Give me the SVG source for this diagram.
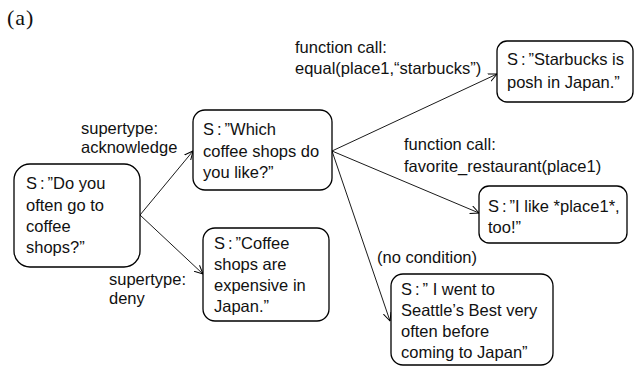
<svg xmlns="http://www.w3.org/2000/svg" width="635" height="366" viewBox="0 0 635 366">
<defs>
<style>
.box{fill:#fff;stroke:#000;stroke-width:1.3}
.t{font-family:"Liberation Sans","Noto Sans CJK JP",sans-serif;font-size:16.5px;fill:#111}
.c{letter-spacing:3px}
.e{stroke:#000;stroke-width:0.9;fill:none;marker-end:url(#ah)}
</style>
<marker id="ah" viewBox="0 0 10 10" refX="9.5" refY="5" markerWidth="9" markerHeight="9" markerUnits="userSpaceOnUse" orient="auto">
<path d="M0,0.5 L9.5,5 L0,9.5" fill="none" stroke="#000" stroke-width="1.1"/>
</marker>
</defs>
<rect width="635" height="366" fill="#fff"/>
<text x="7" y="25" font-family="Liberation Serif,serif" font-size="22" letter-spacing="1" fill="#111">(a)</text>
<g id="edges">
<line class="e" x1="140" y1="215" x2="193" y2="151"/>
<line class="e" x1="140" y1="215" x2="203" y2="274"/>
<line class="e" x1="332" y1="151" x2="497" y2="74"/>
<line class="e" x1="332" y1="151" x2="479" y2="213"/>
<line class="e" x1="332" y1="151" x2="390" y2="321"/>
<text class="t" x="81" y="134">supertype:</text>
<text class="t" x="81" y="153">acknowledge</text>
<text class="t" x="109" y="285">supertype:</text>
<text class="t" x="109" y="304">deny</text>
<text class="t" x="295" y="53">function call:</text>
<text class="t" x="295" y="74">equal(place1,“starbucks”)</text>
<text class="t" x="404" y="150">function call:</text>
<text class="t" x="404" y="172">favorite_restaurant(place1)</text>
<text class="t" x="377" y="263">(no condition)</text>
</g>
<g id="n1">
<rect class="box" x="14" y="164" width="126" height="103" rx="16"/>
<text class="t" x="26" y="189"><tspan class="c">S:</tspan>”Do you</text>
<text class="t" x="26" y="211">often go to</text>
<text class="t" x="26" y="232">coffee</text>
<text class="t" x="26" y="253">shops?”</text>
</g>
<g id="n2">
<rect class="box" x="193" y="110" width="139" height="80" rx="12"/>
<text class="t" x="203" y="135"><tspan class="c">S:</tspan>”Which</text>
<text class="t" x="203" y="157">coffee shops do</text>
<text class="t" x="203" y="178">you like?”</text>
</g>
<g id="n3">
<rect class="box" x="203" y="228" width="126" height="93" rx="12"/>
<text class="t" x="214" y="249"><tspan class="c">S:</tspan>”Coffee</text>
<text class="t" x="214" y="270">shops are</text>
<text class="t" x="214" y="291">expensive in</text>
<text class="t" x="214" y="312">Japan.”</text>
</g>
<g id="n4">
<rect class="box" x="497" y="41" width="136" height="61" rx="10"/>
<text class="t" x="507" y="65"><tspan class="c">S:</tspan>”Starbucks is</text>
<text class="t" x="507" y="88">posh in Japan.”</text>
</g>
<g id="n5">
<rect class="box" x="479" y="186" width="148" height="57" rx="10"/>
<text class="t" x="488" y="212"><tspan class="c">S:</tspan>”I like *place1*,</text>
<text class="t" x="488" y="233">too!”</text>
</g>
<g id="n6">
<rect class="box" x="391" y="274" width="162" height="91" rx="12"/>
<text class="t" x="401" y="295"><tspan class="c">S:</tspan>” I went to</text>
<text class="t" x="401" y="316">Seattle’s Best very</text>
<text class="t" x="401" y="337">often before</text>
<text class="t" x="401" y="358">coming to Japan”</text>
</g>
</svg>
